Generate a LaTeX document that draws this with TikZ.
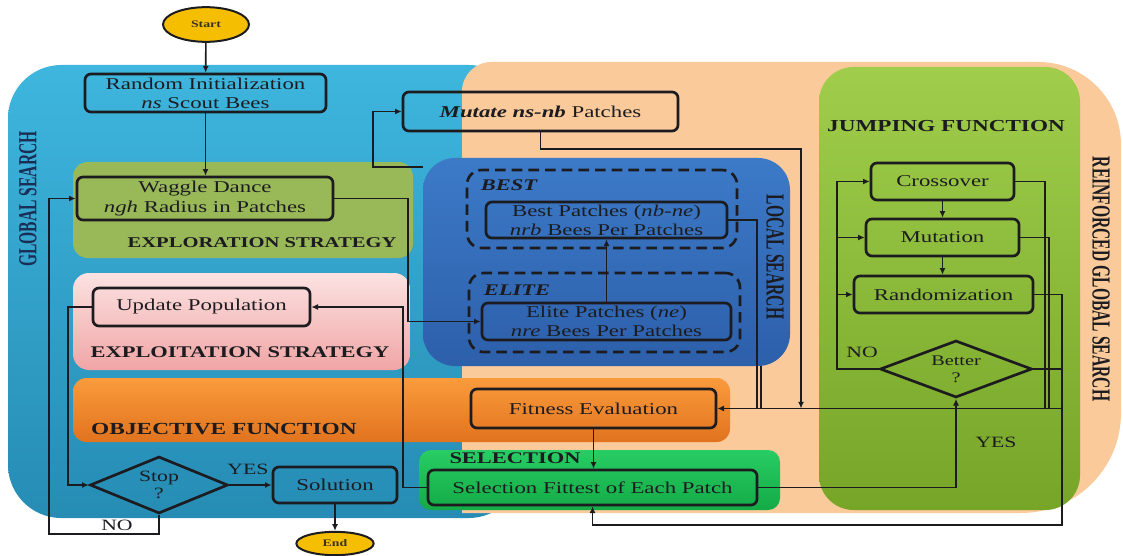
\documentclass[tikz,border=0pt]{standalone}
\usepackage{fontspec}
\setmainfont{Liberation Serif}[FakeStretch=1.38]
\newfontfamily\sidefont{Liberation Serif}[FakeStretch=0.6]
\usetikzlibrary{fit,shapes.geometric,arrows.meta}
\definecolor{gsTop}{RGB}{62,182,222}
\definecolor{gsBot}{RGB}{38,140,180}
\definecolor{peach}{RGB}{250,202,155}
\definecolor{explore}{RGB}{153,184,88}
\definecolor{pinkTop}{RGB}{252,226,226}
\definecolor{pinkBot}{RGB}{240,165,165}
\definecolor{orTop}{RGB}{250,155,60}
\definecolor{orBot}{RGB}{225,115,30}
\definecolor{lsTop}{RGB}{60,122,200}
\definecolor{lsBot}{RGB}{45,95,170}
\definecolor{selTop}{RGB}{40,205,100}
\definecolor{selBot}{RGB}{20,170,70}
\definecolor{jTop}{RGB}{160,205,75}
\definecolor{jBot}{RGB}{118,165,40}
\definecolor{termFill}{RGB}{245,190,0}
\definecolor{ink}{RGB}{28,28,32}
\definecolor{navy}{RGB}{25,45,85}
\newcommand{\boxfont}{\fontsize{12.4}{14.3}\selectfont}
\newcommand{\labfont}{\fontsize{12.2}{14}\selectfont\bfseries}
\newcommand{\sidelab}{\sidefont\fontsize{19.5}{20}\selectfont\bfseries}
\begin{document}
\begin{tikzpicture}[x=0.75pt,y=-0.75pt,
  region/.style={inner sep=0pt, outer sep=0pt},
  box/.style={draw=ink, line width=2pt, rounded corners=4.5pt, inner sep=0pt, align=center, font=\boxfont, text=ink},
  dashbox/.style={draw=ink, line width=2pt, dash pattern=on 8pt off 4.5pt, rounded corners=11pt, inner sep=0pt},
  term/.style={ellipse, draw=ink, line width=1.5pt, fill=termFill, inner sep=0pt, font=\fontsize{7.5}{8}\selectfont\bfseries, text=ink!80!brown},
  decision/.style={diamond, draw=ink, line width=2pt, inner sep=0pt},
  lab/.style={font=\labfont, text=ink},
  small/.style={font=\fontsize{11.8}{13}\selectfont, text=ink},
  conn/.style={draw=ink, line width=1.2pt},
  arr/.style={conn, -{Latex[length=5pt,width=4.5pt]}}
]
\useasboundingbox (0,0) rectangle (1123,556);
\fill[white] (0,0) rectangle (1123,556);

% ---------- background regions ----------
\node[region, fit={(8,65)(522,518)}, rounded corners=40pt, top color=gsTop, bottom color=gsBot] (gs) {};
\fill[peach] (700,513) -- (462,513) [rounded corners=22pt] -- (462,62) [rounded corners=62pt] -- (1121,62) [rounded corners=75pt] -- (1121,513) [rounded corners=50pt] -- cycle;
\node[region, fit={(73,162)(413,258)}, rounded corners=11pt, fill=explore] (expl) {};
\node[region, fit={(73,273)(410,370)}, rounded corners=12pt, top color=pinkTop, bottom color=pinkBot] (exploit) {};
\node[region, fit={(73,378)(730,442)}, rounded corners=10pt, top color=orTop, bottom color=orBot] (obj) {};
\node[region, fit={(423,158)(790,366)}, rounded corners=24pt, top color=lsTop, bottom color=lsBot] (ls) {};
\node[region, fit={(419,450)(780,510)}, rounded corners=9pt, top color=selTop, bottom color=selBot] (selr) {};
\node[region, fit={(819,67)(1080,510)}, rounded corners=26pt, top color=jTop, bottom color=jBot] (jf) {};

% ---------- region labels ----------
\node[font=\sidelab, text=navy, rotate=90] (lgs) at (28,199) {GLOBAL SEARCH};
\node[font=\sidelab, text=ink, rotate=-90] (lls) at (775,257) {LOCAL SEARCH};
\node[font=\sidelab, text=ink, rotate=-90] (lrg) at (1101,279) {REINFORCED GLOBAL SEARCH};
\node[lab, font=\fontsize{11.2}{13}\selectfont\bfseries] (lexpl) at (262,243) {EXPLORATION STRATEGY};
\node[lab] (lexploit) at (240,352) {EXPLOITATION STRATEGY};
\node[lab, font=\fontsize{12.7}{14}\selectfont\bfseries] (lobj) at (224,429) {OBJECTIVE FUNCTION};
\node[lab] (lsel) at (515,458) {SELECTION};
\node[lab, font=\fontsize{12.6}{14}\selectfont\bfseries] (ljf) at (946,126) {JUMPING FUNCTION};

% ---------- dashed groups ----------
\node[dashbox, fit={(467,170)(737,248)}] (bestg) {};
\node[dashbox, fit={(469,273)(740,352)}] (eliteg) {};
\node[lab, font=\fontsize{12.2}{14}\selectfont\bfseries\itshape] (lbest) at (509,185) {BEST};
\node[lab, font=\fontsize{12.2}{14}\selectfont\bfseries\itshape] (lelite) at (517,290) {ELITE};

% ---------- terminals ----------
\node[term, minimum width=64.5pt, minimum height=26pt] (start) at (206,24.5) {Start};
\node[term, minimum width=58pt, minimum height=17.5pt] (end) at (335,543.5) {End};

% ---------- boxes ----------
\node[box, minimum width=180.75pt, minimum height=28.5pt] (init) at (205.5,93) {Random Initialization\\\textit{ns} Scout Bees};
\node[box, minimum width=206.25pt, minimum height=29.25pt] (mut) at (540.5,111.5) {\textbf{\textit{Mutate ns-nb}} Patches};
\node[box, minimum width=192pt, minimum height=32.25pt] (wag) at (205,198.5) {Waggle Dance\\\textit{ngh} Radius in Patches};
\node[box, minimum width=180.75pt, minimum height=27pt] (best) at (606.5,220) {Best Patches (\textit{nb-ne})\\\textit{nrb} Bees Per Patches};
\node[box, minimum width=186.75pt, minimum height=27.75pt] (elite) at (606.5,321.5) {Elite Patches (\textit{ne})\\\textit{nre} Bees Per Patches};
\node[box, minimum width=162.75pt, minimum height=28.5pt] (upd) at (201.5,307) {Update Population};
\node[box, minimum width=183.75pt, minimum height=29.25pt] (fit) at (593.5,408.5) {Fitness Evaluation};
\node[box, minimum width=246.75pt, minimum height=26.25pt] (selb) at (592.5,487.5) {Selection Fittest of Each Patch};
\node[box, minimum width=93pt, minimum height=27pt] (sol) at (335,485) {Solution};
\node[box, minimum width=107.25pt, minimum height=27.75pt] (cross) at (942.5,181.5) {Crossover};
\node[box, minimum width=114.75pt, minimum height=27.75pt] (mutn) at (942.5,237.5) {Mutation};
\node[box, minimum width=134.25pt, minimum height=27.75pt] (rand) at (943.5,294.5) {Randomization};

% ---------- decisions ----------
\node[decision, minimum width=103.5pt, minimum height=42.75pt,
  label={[align=center, font=\fontsize{11.8}{12.5}\selectfont, text=ink]center:Stop\\?}] (stop) at (159,485) {};
\node[decision, minimum width=114pt, minimum height=42.75pt,
  label={[align=center, font=\fontsize{11}{12.5}\selectfont, text=ink]center:Better\\?}] (better) at (956,369) {};

% ---------- labels on connectors ----------
\node[small] (yes1) at (248,469) {YES};
\node[small] (no1) at (117,525) {NO};
\node[small] (no2) at (862,352) {NO};
\node[small] (yes2) at (996,442) {YES};

% ---------- connectors ----------
\coordinate (busR) at (1062,408.5);
\draw[arr] (start) -- (init);
\draw[arr] (init.south) -- (init.south |- wag.north);
\draw[arr] (wag.east) -- (408,198.5) |- (elite.west);
\draw[arr] (ls.west |- 0,167) -- (373,167) |- (mut.west);
\draw[arr] (mut.south) |- (801,149) -- (801,408.5);
\draw[conn] (best.east) -- (757,220) -- (757,408.5);
\draw[conn] (761,366) -- (761,408.5);
\draw[arr] (elite.north) -- (best.south);
\draw[arr] (fit.south) -- (fit.south |- selb.north);
\draw[arr] (selb.west) -- (403,487.5) |- (upd.east);
\draw[arr] (upd.west) -- (68,307) |- (stop.west);
\draw[arr] (stop.south) -- (159,534) -- (49,534) |- (wag.west);
\draw[arr] (stop.east) -- (sol.west);
\draw[arr] (sol.south) -- (end.north);
\draw[arr] (selb.east) -| (better.south);
\draw[arr] (better.west) -- (837,369) |- (cross.west);
\draw[arr] (837,237.5) -- (mutn.west);
\draw[arr] (837,294.5) -- (rand.west);
\draw[arr] (cross.south) -- (cross.south |- mutn.north);
\draw[arr] (mutn.south) -- (mutn.south |- rand.north);
\draw[conn] (cross.east) -| (1045,408.5);
\draw[conn] (mutn.east) -| (1049,408.5);
\draw[conn] (better.east) -- (1062,369);
\draw[arr] (rand.east) -| (1062,525) -| (selb.south);
\draw[arr] (busR) -- (fit.east);
\end{tikzpicture}
\end{document}
